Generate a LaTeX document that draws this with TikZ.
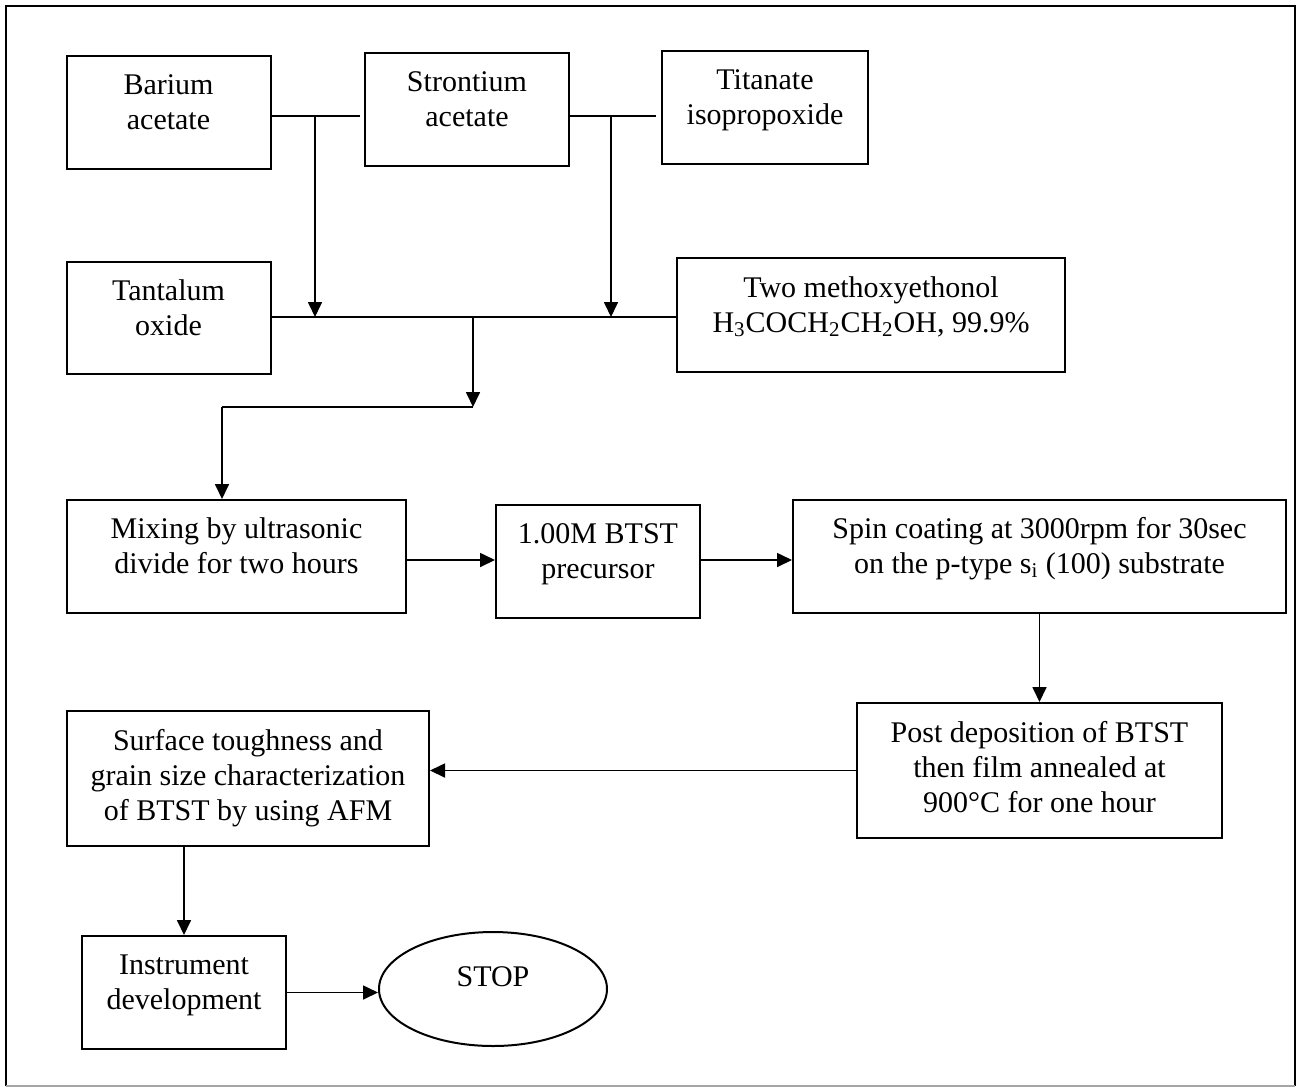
\documentclass[tikz,border=0pt]{standalone}
\usepackage{fontspec}
\setmainfont{Liberation Serif}
\usepackage{tikz}
\usetikzlibrary{arrows.meta, shapes.geometric}
\tikzstyle{chart} = [x = 0.5pt, y = -0.5pt]
\definecolor{frameBottom}{RGB}{165,165,165}
\tikzstyle{stepBox} = [draw, line width = 1pt, align = center, inner sep = 0pt, minimum width = 102pt, minimum height = 56.5pt, font = \fontsize{15}{17.5}\selectfont, text height = 20pt, text depth = 3pt]
\tikzstyle{threeLines} = [minimum height = 67.5pt, text height = 45pt]
\tikzstyle{stopOval} = [stepBox, ellipse, minimum width = 114pt, minimum height = 57pt, text height = 2pt, text depth = 5pt]
\tikzstyle{flowLine} = [line width = .85pt]
\tikzstyle{flowArrow} = [flowLine, -{Triangle[length = 7.5pt, width = 7pt]}]
\newcommand{\sub}[1]{\textsubscript{#1}}

\begin{document}
\begin{tikzpicture}[chart]
  \useasboundingbox (0,0) rectangle (1302,1089);
  \draw [line width = 1pt] (6,1086) -- (6,6) -- (1295,6) -- (1295,1086);
  \draw [line width = 1pt, color = frameBottom] (6,1086) -- (1295,1086);

  \node [stepBox] (barium) at (168.5,112.5) {Barium\\acetate};
  \node [stepBox] (strontium) at (467,109.5) {Strontium\\acetate};
  \node [stepBox, minimum width = 103pt] (titanate) at (765,107.5) {Titanate\\isopropoxide};
  \node [stepBox, minimum height = 56pt] (tantalum) at (168.5,318) {Tantalum\\oxide};
  \node [stepBox, minimum width = 194pt, minimum height = 57pt] (methoxy) at (871,315) {Two methoxyethonol\\H\sub{3}COCH\sub{2}CH\sub{2}OH, 99.9\%};
  \node [stepBox, minimum width = 169.5pt] (mixing) at (236.5,556.5) {Mixing by ultrasonic\\divide for two hours};
  \node [stepBox] (precursor) at (598,561.5) {1.00M BTST\\precursor};
  \node [stepBox, minimum width = 246.5pt] (spin) at (1039.5,556.5) {Spin coating at 3000rpm for 30sec\\on the p-type s\sub{i} (100) substrate};
  \node [stepBox, threeLines, minimum width = 182.5pt] (post) at (1039.5,770.5) {Post deposition of BTST\\then film annealed at\\900°C for one hour};
  \node [stepBox, threeLines, minimum width = 181pt] (surface) at (248,778.5) {Surface toughness and\\grain size characterization\\of BTST by using AFM};
  \node [stepBox] (instrument) at (184,992.5) {Instrument\\development};
  \node [stopOval] (stop) at (493,989) {STOP};

  \coordinate (dropA) at (315,116);
  \coordinate (dropB) at (611,116);
  \coordinate (dropC) at (473,317);
  \coordinate (bend) at (222,407);
  \coordinate (rowC) at (0,560);

  \draw [flowLine] (barium.east |- dropA) -- ([xshift = -2pt]strontium.west |- dropA);
  \draw [flowLine] (strontium.east |- dropB) -- ([xshift = -2.5pt]titanate.west |- dropB);
  \draw [flowLine] (tantalum.east |- dropC) -- (methoxy.west |- dropC);
  \draw [flowArrow] (dropA) -- (dropA |- dropC);
  \draw [flowArrow] (dropB) -- (dropB |- dropC);
  \draw [flowArrow] (dropC) -- (dropC |- bend);
  \draw [flowLine] (dropC |- bend) -- (bend);
  \draw [flowArrow] (bend) -- (bend |- mixing.north);
  \draw [flowArrow] (mixing.east |- rowC) -- (precursor.west |- rowC);
  \draw [flowArrow] (precursor.east |- rowC) -- (spin.west |- rowC);
  \draw [flowArrow] (spin.south) -- (post.north);
  \draw [flowArrow] (post.west) -- (post.west -| surface.east);
  \draw [flowArrow] (instrument.north |- surface.south) -- (instrument.north);
  \draw [flowArrow] (instrument.east) -- (instrument.east -| stop.west);
\end{tikzpicture}
\end{document}
